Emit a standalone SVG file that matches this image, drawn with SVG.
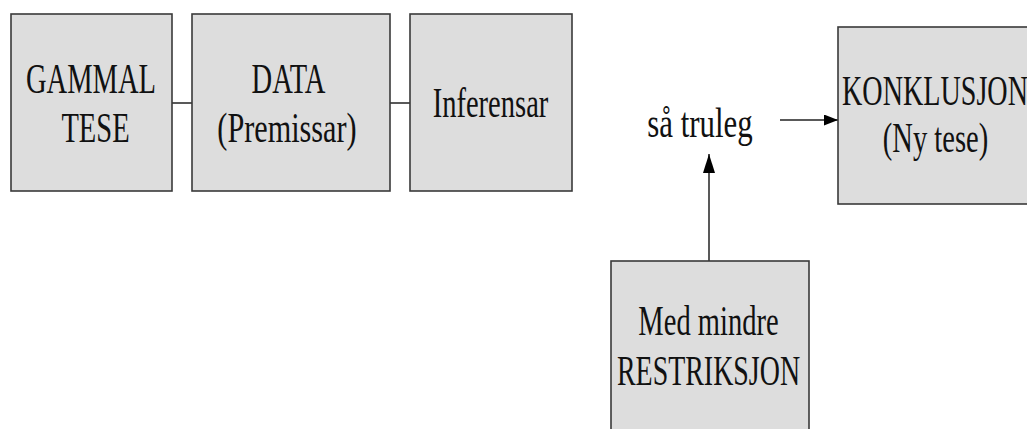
<svg xmlns="http://www.w3.org/2000/svg" width="1027" height="429" viewBox="0 0 1027 429">
  <defs>
    <marker id="arrow" viewBox="0 0 14 11" refX="14" refY="5.5" markerWidth="14" markerHeight="11" markerUnits="userSpaceOnUse" orient="auto">
      <path d="M0,0 L14,5.5 L0,11 Z" fill="#000"/>
    </marker>
    <marker id="arrowTall" viewBox="0 0 19 12" refX="19" refY="6" markerWidth="19" markerHeight="12" markerUnits="userSpaceOnUse" orient="auto">
      <path d="M0,0 L19,6 L0,12 Z" fill="#000"/>
    </marker>
  </defs>
  <style>
    .box { fill: #dddddd; stroke: #3a3a3a; stroke-width: 1.6; }
    text { font-family: "Liberation Serif", "DejaVu Serif", serif; font-size: 42px; fill: #111; text-anchor: middle; }
    .link { stroke: #222; stroke-width: 1.5; fill: none; }
  </style>
  <rect width="1027" height="429" fill="#ffffff"/>

  <!-- connectors -->
  <g id="connectors">
    <line class="link" x1="172" y1="103" x2="192" y2="103"/>
    <line class="link" x1="390" y1="103" x2="410" y2="103"/>
    <line class="link" x1="780" y1="120" x2="838" y2="120" marker-end="url(#arrow)"/>
    <path class="link" d="M709,261 L709,154" marker-end="url(#arrowTall)"/>
  </g>

  <!-- labels are drawn in a horizontally condensed serif -->
  <g id="gammal-tese">
    <rect class="box" x="11" y="14" width="161" height="177"/>
    <text transform="translate(91,93) scale(0.68,1)">GAMMAL</text>
    <text transform="translate(95.5,142) scale(0.68,1)">TESE</text>
  </g>

  <g id="data">
    <rect class="box" x="192" y="14" width="198" height="177"/>
    <text transform="translate(288.5,93) scale(0.68,1)">DATA</text>
    <text transform="translate(287,142) scale(0.72,1)">(Premissar)</text>
  </g>

  <g id="inferensar">
    <rect class="box" x="410" y="14" width="162" height="177"/>
    <text transform="translate(490.5,117) scale(0.68,1)">Inferensar</text>
  </g>

  <g id="saa-truleg">
    <text transform="translate(700,137) scale(0.735,1)">så truleg</text>
  </g>

  <g id="konklusjon">
    <rect class="box" x="838" y="27" width="200" height="177"/>
    <text transform="translate(935,105) scale(0.67,1)">KONKLUSJON</text>
    <text transform="translate(935.5,152) scale(0.68,1)">(Ny tese)</text>
  </g>

  <g id="restriksjon">
    <rect class="box" x="611" y="261" width="198" height="180"/>
    <text transform="translate(708.5,335) scale(0.68,1)">Med mindre</text>
    <text transform="translate(708.5,385) scale(0.665,1)">RESTRIKSJON</text>
  </g>
</svg>
